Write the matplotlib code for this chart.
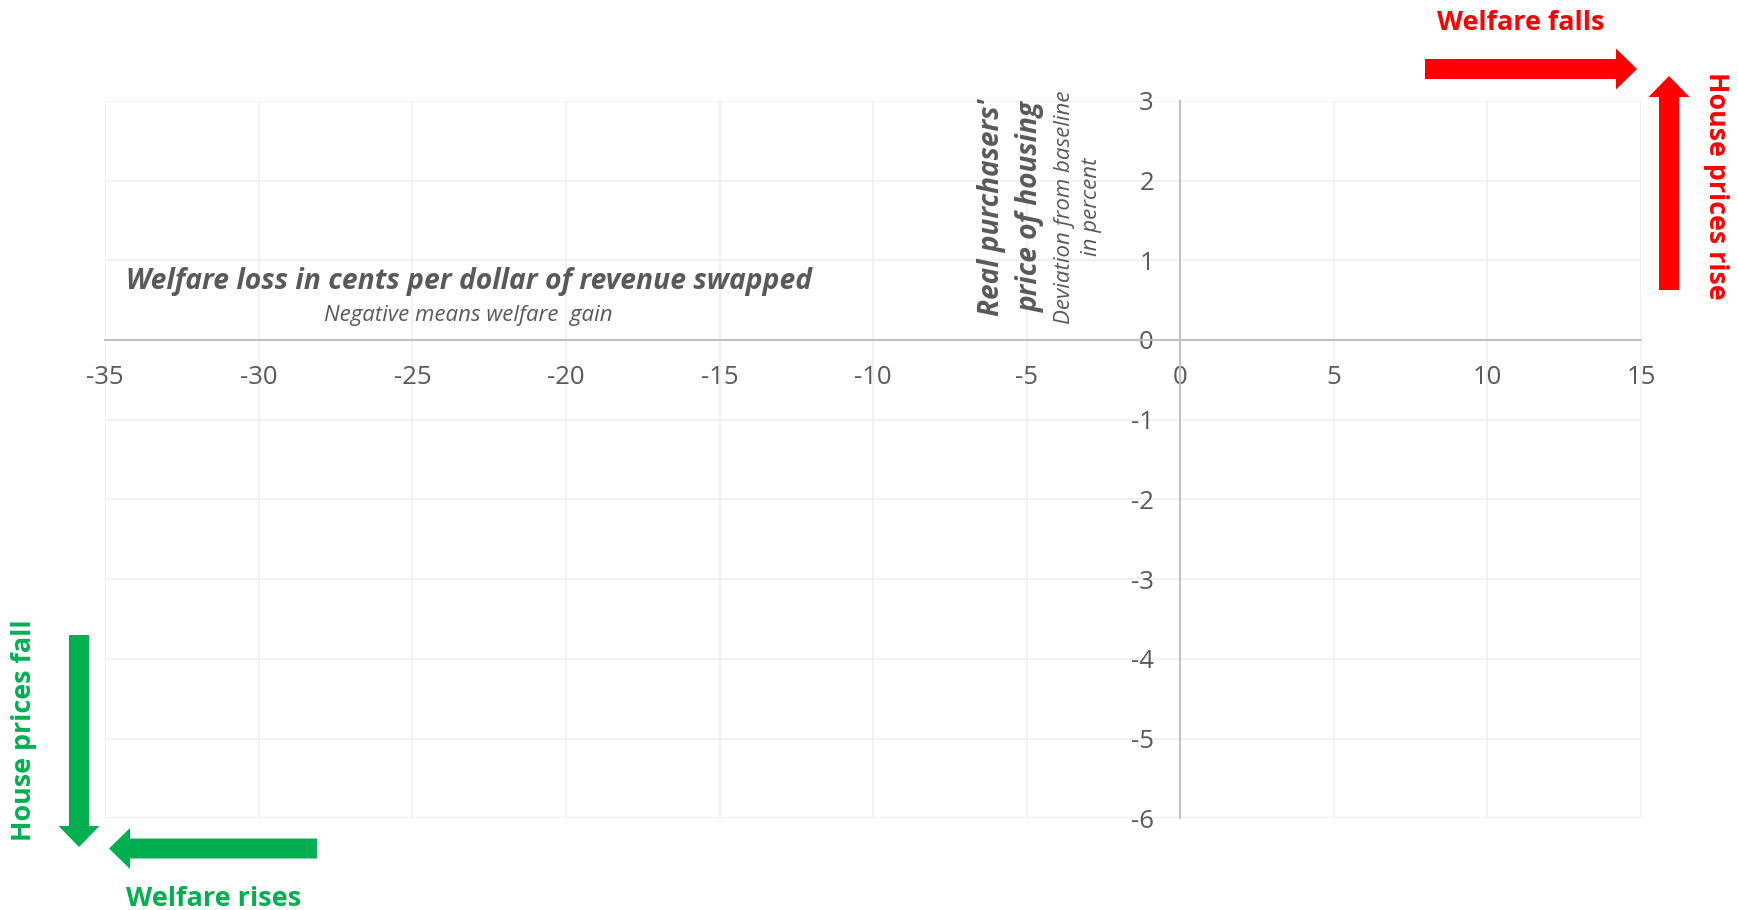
import numpy as np
import matplotlib.pyplot as plt
from matplotlib.patches import FancyArrow

plt.rcParams['font.family'] = ['Open Sans', 'DejaVu Sans']
plt.rcParams['axes.unicode_minus'] = False

# Axis ranges and ticks
x_limits = (-35, 15)
y_limits = (-6, 3)
x_ticks = np.arange(-35, 16, 5)
y_ticks = np.arange(-6, 4, 1)

# Text content
x_title = 'Welfare loss in cents per dollar of revenue swapped'
x_subtitle = 'Negative means welfare  gain'
y_title = "Real purchasers'\nprice of housing"
y_subtitle = 'Deviation from baseline\nin percent'

GREY = '#595959'
RED = '#FF0000'
GREEN = '#00B050'

W, H = 1738, 910
fig = plt.figure(figsize=(W / 100, H / 100), dpi=100)

# main axes in pixel placement
left, right, top, bottom = 105.3, 1641, 100.8, 818.3
ax = fig.add_axes([left / W, (H - bottom) / H, (right - left) / W, (bottom - top) / H])
ax.set_xlim(*x_limits)
ax.set_ylim(*y_limits)
ax.set_xticks(x_ticks)
ax.set_yticks(y_ticks)
ax.spines['left'].set_position(('data', 0))
ax.spines['bottom'].set_position(('data', 0))
ax.spines[['top', 'right']].set_visible(False)
for s in ['left', 'bottom']:
    ax.spines[s].set_color('#c0c0c0')
    ax.spines[s].set_linewidth(1.4)
ax.grid(True, color='#efefef', linewidth=1.2)
ax.set_axisbelow(True)
ax.tick_params(length=0, labelsize=18.5, labelcolor=GREY)
ax.tick_params(axis='x', pad=18)
ax.tick_params(axis='y', pad=19)
for lbl in ax.get_xticklabels() + ax.get_yticklabels():
    lbl.set_clip_on(False)

# overlay in pixel coordinates for titles and arrows
ov = fig.add_axes([0, 0, 1, 1], facecolor='none')
ov.set_xlim(0, W)
ov.set_ylim(H, 0)
ov.axis('off')

ov.text(126, 289, x_title, fontsize=20.3, fontweight='bold', fontstyle='italic',
        color=GREY, ha='left', va='baseline')
ov.text(468, 321.5, x_subtitle, fontsize=16, fontstyle='italic',
        color=GREY, ha='center', va='baseline')
ov.text(1011, 207, y_title, fontsize=20.2, fontweight='bold', fontstyle='italic',
        color=GREY, ha='center', va='center', rotation=90, linespacing=1.45,
        multialignment='center')
ov.text(1078, 207, y_subtitle, fontsize=16, fontstyle='italic',
        color=GREY, ha='center', va='center', rotation=90, linespacing=1.36,
        multialignment='center')

# red arrows / labels (top right)
ov.text(1521, 30, 'Welfare falls', fontsize=19.4, fontweight='bold', color=RED,
        ha='center', va='baseline')
ov.add_patch(FancyArrow(1425, 69, 212, 0, width=20, head_width=41, head_length=21,
                        length_includes_head=True, color=RED, lw=0))
ov.add_patch(FancyArrow(1669, 290, 0, -214, width=20, head_width=41, head_length=21,
                        length_includes_head=True, color=RED, lw=0))
ov.text(1716, 186, 'House prices rise', fontsize=19.3, fontweight='bold', color=RED,
        ha='center', va='center', rotation=-90)

# green arrows / labels (bottom left)
ov.add_patch(FancyArrow(79, 635, 0, 212, width=20, head_width=41, head_length=21,
                        length_includes_head=True, color=GREEN, lw=0))
ov.add_patch(FancyArrow(317, 848.5, -208, 0, width=20, head_width=41, head_length=21,
                        length_includes_head=True, color=GREEN, lw=0))
ov.text(24, 730, 'House prices fall', fontsize=19.4, fontweight='bold', color=GREEN,
        ha='center', va='center', rotation=90)
ov.text(214, 906, 'Welfare rises', fontsize=19.5, fontweight='bold', color=GREEN,
        ha='center', va='baseline')

fig.savefig('out.png', dpi=100)
